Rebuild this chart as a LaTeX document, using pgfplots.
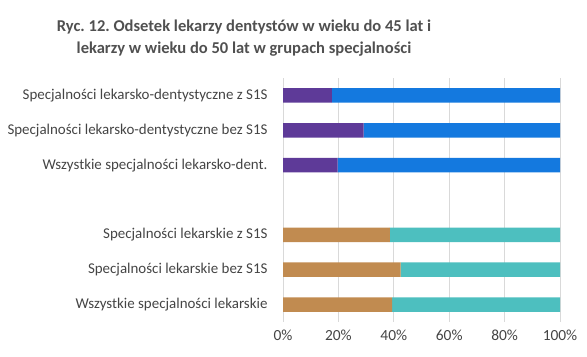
\documentclass[border=0pt]{standalone}
\usepackage{pgfplots}
\pgfplotsset{compat=1.18}
\usepackage{fontspec}
\setmainfont{Carlito}
\frenchspacing
\definecolor{purp}{HTML}{5E3A98}
\definecolor{blu}{HTML}{1479DF}
\definecolor{brn}{HTML}{C18B50}
\definecolor{teal2}{HTML}{4DBFBF}
\definecolor{txt}{HTML}{444444}
\definecolor{ttl}{HTML}{505050}
\definecolor{grd}{HTML}{D9D9D9}
\begin{document}
\begin{tikzpicture}[x=1bp,y=1bp]
\path[use as bounding box] (0,0) rectangle (587,356);
\node[font=\fontsize{16.6}{20}\selectfont\bfseries, text=ttl, align=center] at (244,318) {Ryc. 12. Odsetek lekarzy dentystów w wieku do 45 lat i\\[2pt] lekarzy w wieku do 50 lat w grupach specjalności};
\begin{axis}[
  at={(283bp,34bp)}, anchor=south west,
  scale only axis, width=277bp, height=244bp,
  xbar stacked, bar width=14.5bp,
  xmin=0, xmax=100, ymin=-0.5, ymax=6.5, y dir=reverse,
  axis line style={draw=none},
  major tick length=0pt,
  xmajorgrids, grid style={grd, line width=0.8pt},
  xtick={0,20,40,60,80,100},
  xticklabels={0\%,20\%,40\%,60\%,80\%,100\%},
  ytick={0,1,2,4,5,6},
  yticklabels={Specjalności lekarsko-dentystyczne z S1S,
               Specjalności lekarsko-dentystyczne bez S1S,
               Wszystkie specjalności lekarsko-dent.,
               Specjalności lekarskie z S1S,
               Specjalności lekarskie bez S1S,
               Wszystkie specjalności lekarskie},
  yticklabel style={font=\fontsize{15}{16}\selectfont, text=txt, xshift=-12bp},
  xticklabel style={font=\fontsize{15.5}{17}\selectfont, text=txt, yshift=-4bp},
]
\addplot[fill=purp, draw=none] coordinates {(17.6,0) (29.1,1) (19.7,2) (0,4) (0,5) (0,6)};
\addplot[fill=brn, draw=none] coordinates {(0,0) (0,1) (0,2) (38.6,4) (42.5,5) (39.4,6)};
\addplot[fill=blu, draw=none] coordinates {(82.4,0) (70.9,1) (80.3,2) (0,4) (0,5) (0,6)};
\addplot[fill=teal2, draw=none] coordinates {(0,0) (0,1) (0,2) (61.4,4) (57.5,5) (60.6,6)};
\end{axis}
\end{tikzpicture}
\end{document}
